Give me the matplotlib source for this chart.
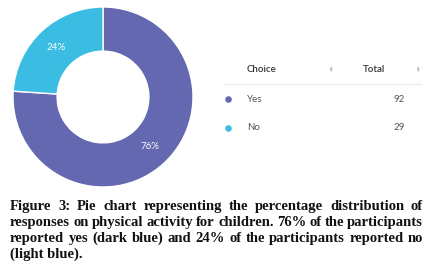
import matplotlib
matplotlib.use("Agg")
import matplotlib.pyplot as plt

choices = ["Yes", "No"]
totals = [92, 29]
colors = ["#6368b0", "#3bbde3"]
caption_lines = [
    "Figure 3: Pie chart representing the percentage distribution of",
    "responses on physical activity for children. 76% of the participants",
    "reported yes (dark blue) and 24% of the participants reported no",
    "(light blue).",
]

W, H = 437, 276
fig = plt.figure(figsize=(W / 100, H / 100), dpi=100)

# donut
cx, cy, r = 103, 97, 90
pax = fig.add_axes([(cx - r) / W, (H - cy - r) / H, 2 * r / W, 2 * r / H])
wedges, texts, autotexts = pax.pie(
    totals, colors=colors, startangle=90, counterclock=False,
    radius=1, autopct="%1.0f%%", pctdistance=0.76,
    wedgeprops=dict(width=0.49, edgecolor="white", linewidth=1),
    textprops=dict(color="white", fontsize=7, family="Lato"))
pax.set_xlim(-1, 1)
pax.set_ylim(-1, 1)
pax.axis("off")

tax = fig.add_axes([0, 0, 1, 1], zorder=3)
tax.set_xlim(0, W)
tax.set_ylim(H, 0)
tax.axis("off")
tax.patch.set_alpha(0)

tax.text(247, 69, "Choice", fontsize=7, family="Lato", color="#333333",
         weight="semibold", va="center")
tax.text(363, 69, "Total", fontsize=7, family="Lato", color="#333333",
         weight="semibold", va="center")
for x in (331, 418):
    tax.text(x, 67.5, "\u25b4", fontsize=3.5, color="#aaaaaa", ha="center", va="center")
    tax.text(x, 71, "\u25be", fontsize=3.5, color="#aaaaaa", ha="center", va="center")
tax.plot([224, 421], [84, 84], color="#eeeeee", lw=1)

row_y = [99, 128]
for name, val, col, y in zip(choices, totals, colors, row_y):
    tax.scatter([228], [y], s=14, color=col, zorder=4)
    tax.text(247, y, name, fontsize=7, family="Lato", color="#555555", va="center")
    tax.text(405, y, str(val), fontsize=7, family="Lato", color="#555555",
             va="center", ha="right")

# white box behind caption hides the pie bottom
tax.add_patch(plt.Rectangle((0, 189), W, H - 189, color="white", zorder=1))

fig.canvas.draw()
renderer = fig.canvas.get_renderer()
left, right = 10, 423
y0, dy = 210, 16
fs = 10.5
font = dict(fontsize=fs, family="Liberation Serif", weight="bold")
for i, line in enumerate(caption_lines):
    y = y0 + i * dy
    words = line.split(" ")
    if i == len(caption_lines) - 1:
        tax.text(left, y, line, color="#111111", va="baseline", zorder=5, **font)
        continue
    widths = []
    for w in words:
        t = tax.text(0, 0, w, **font)
        bb = t.get_window_extent(renderer)
        widths.append(bb.width * W / fig.bbox.width)
        t.remove()
    gap = (right - left - sum(widths)) / (len(words) - 1)
    x = left
    for w, wd in zip(words, widths):
        tax.text(x, y, w, color="#111111", va="baseline", zorder=5, **font)
        x += wd + gap

fig.savefig("out.png", dpi=100)
